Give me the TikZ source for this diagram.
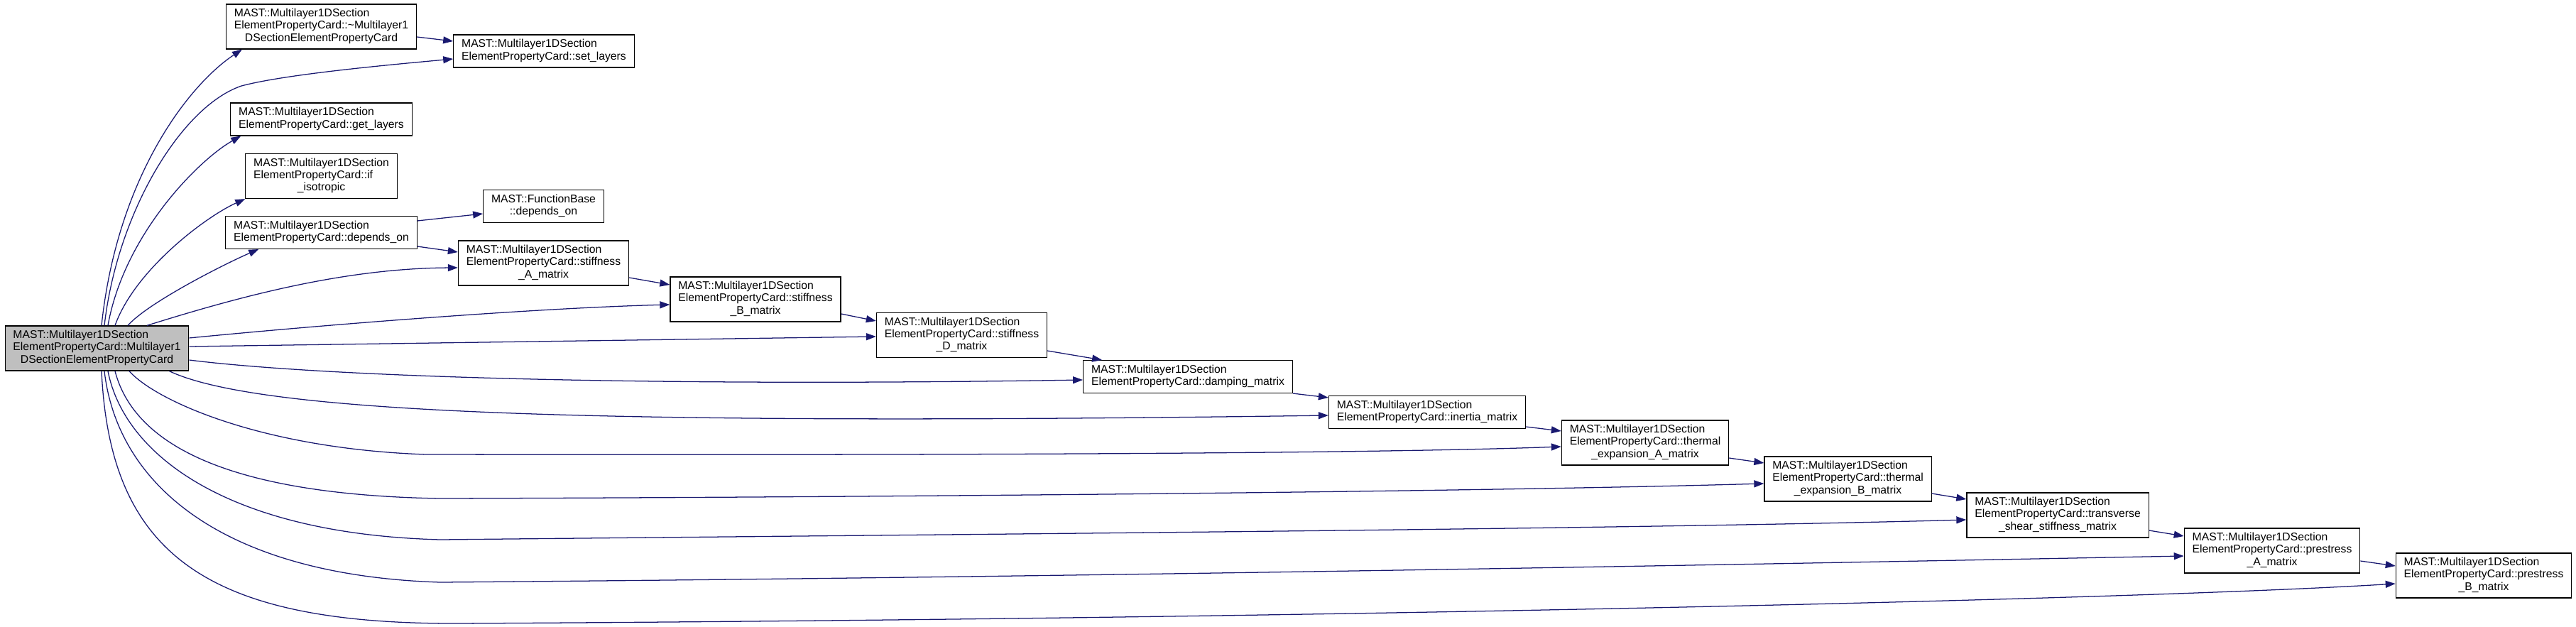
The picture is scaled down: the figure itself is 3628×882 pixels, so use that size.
\documentclass[tikz,border=0pt]{standalone}
\usepackage{fontspec}
\setmainfont{Liberation Sans}
\usepackage{tikz}
\usetikzlibrary{arrows.meta}

\definecolor{callblue}{RGB}{25,25,112}
\definecolor{rootgray}{RGB}{191,191,191}

% left-aligned lines, last line centred
\newcommand{\fnlabel}[2]{\begin{tabular}{@{}l@{}}#1\\\multicolumn{1}{@{}c@{}}{#2}\end{tabular}}

\begin{document}
\begin{tikzpicture}[
    x=0.75pt, y=-0.75pt,
    >={Triangle[length=10.5pt,width=7.5pt]},
    fnbox/.style={rectangle, draw=black, line width=0.9pt, fill=white, inner xsep=8.5pt, inner ysep=4.3pt, font=\fontsize{11.8}{12.9}\selectfont},
    rootbox/.style={fnbox, fill=rootgray},
    call/.style={->, draw=callblue, line width=0.95pt}
]
\useasboundingbox (0,0) rectangle (3628,882);

\node[rootbox] (root) at (136.5,490.5) {\fnlabel{MAST::Multilayer1DSection\\ElementPropertyCard::Multilayer1}{DSectionElementPropertyCard}};

\node[fnbox] (dtor) at (452.5,37.5) {\fnlabel{MAST::Multilayer1DSection\\ElementPropertyCard::\textasciitilde Multilayer1}{DSectionElementPropertyCard}};
\node[fnbox] (setlayers) at (766,72) {\fnlabel{MAST::Multilayer1DSection}{ElementPropertyCard::set\_layers}};
\node[fnbox] (getlayers) at (452.5,168) {\fnlabel{MAST::Multilayer1DSection}{ElementPropertyCard::get\_layers}};
\node[fnbox] (ifiso) at (452.5,248) {\fnlabel{MAST::Multilayer1DSection\\ElementPropertyCard::if}{\_isotropic}};
\node[fnbox] (funcbase) at (765.5,290.5) {\fnlabel{MAST::FunctionBase}{::depends\_on}};
\node[fnbox] (dependson) at (452.5,327.5) {\fnlabel{MAST::Multilayer1DSection}{ElementPropertyCard::depends\_on}};

\node[fnbox] (stiffA) at (765.5,370.5) {\fnlabel{MAST::Multilayer1DSection\\ElementPropertyCard::stiffness}{\_A\_matrix}};
\node[fnbox] (stiffB) at (1064,421.5) {\fnlabel{MAST::Multilayer1DSection\\ElementPropertyCard::stiffness}{\_B\_matrix}};
\node[fnbox] (stiffD) at (1354.5,472) {\fnlabel{MAST::Multilayer1DSection\\ElementPropertyCard::stiffness}{\_D\_matrix}};
\node[fnbox] (damping) at (1673,530.5) {\fnlabel{MAST::Multilayer1DSection}{ElementPropertyCard::damping\_matrix}};
\node[fnbox] (inertia) at (2010,580.5) {\fnlabel{MAST::Multilayer1DSection}{ElementPropertyCard::inertia\_matrix}};
\node[fnbox] (thermalA) at (2317,623.5) {\fnlabel{MAST::Multilayer1DSection\\ElementPropertyCard::thermal}{\_expansion\_A\_matrix}};
\node[fnbox] (thermalB) at (2602.5,674.5) {\fnlabel{MAST::Multilayer1DSection\\ElementPropertyCard::thermal}{\_expansion\_B\_matrix}};
\node[fnbox] (transverse) at (2898,725.5) {\fnlabel{MAST::Multilayer1DSection\\ElementPropertyCard::transverse}{\_shear\_stiffness\_matrix}};
\node[fnbox] (prestressA) at (3200,775.5) {\fnlabel{MAST::Multilayer1DSection\\ElementPropertyCard::prestress}{\_A\_matrix}};
\node[fnbox] (prestressB) at (3498,810.5) {\fnlabel{MAST::Multilayer1DSection\\ElementPropertyCard::prestress}{\_B\_matrix}};

% calls made by the constructor
\draw[call] ([shift={(6.5,0)}]root.north) .. controls (165,250) and (265,120) .. ([shift={(23,0)}]dtor.south west);
\draw[call] ([shift={(10.5,0)}]root.north) .. controls (165,300) and (255,150) .. (340,121) .. controls (400,105) and (540,92) .. ([shift={(0,11)}]setlayers.west);
\draw[call] ([shift={(15.5,0)}]root.north) .. controls (175,330) and (280,225) .. ([shift={(15,0)}]getlayers.south west);
\draw[call] ([shift={(25.5,0)}]root.north) .. controls (190,380) and (290,305) .. (ifiso.south west);
\draw[call] ([shift={(43.5,0)}]root.north) .. controls (210,425) and (320,370) .. ([shift={(47,0)}]dependson.south west);
\draw[call] ([shift={(70.5,0)}]root.north) .. controls (330,420) and (480,378) .. ([shift={(0,6.5)}]stiffA.west);
\draw[call] ([shift={(0,-14.5)}]root.east) .. controls (450,458) and (750,434) .. ([shift={(0,7.5)}]stiffB.west);
\draw[call] ([shift={(0,-2.5)}]root.east) -- ([shift={(0,2)}]stiffD.west);
\draw[call] ([shift={(0,16.5)}]root.east) .. controls (450,530) and (900,545) .. ([shift={(0,4.5)}]damping.west);
\draw[call] ([shift={(-28,0)}]root.south east) .. controls (360,580) and (800,600) .. ([shift={(0,4.5)}]inertia.west);
\draw[call] ([shift={(45.5,0)}]root.south) .. controls (220,565) and (370,632) .. (600,640) .. controls (1200,641) and (1900,640) .. ([shift={(0,5.5)}]thermalA.west);
\draw[call] ([shift={(25.5,0)}]root.south) .. controls (190,630) and (330,697) .. (620,702) .. controls (1300,700) and (2100,692) .. ([shift={(0,6.5)}]thermalB.west);
\draw[call] ([shift={(15.5,0)}]root.south) .. controls (175,640) and (320,752) .. (620,760) .. controls (1400,752) and (2300,745) .. ([shift={(0,6.5)}]transverse.west);
\draw[call] ([shift={(10.5,0)}]root.south) .. controls (165,680) and (310,810) .. (620,820) .. controls (1600,812) and (2600,792) .. ([shift={(0,7.5)}]prestressA.west);
\draw[call] ([shift={(6.5,0)}]root.south) .. controls (155,780) and (290,878) .. (640,878) .. controls (1800,872) and (3000,845) .. ([shift={(0,11.5)}]prestressB.west);

% calls between the members
\draw[call] ([shift={(0,14.5)}]dtor.east) -- ([shift={(0,-14)}]setlayers.west);
\draw[call] ([shift={(0,-16.5)}]dependson.east) -- ([shift={(0,10.5)}]funcbase.west);
\draw[call] ([shift={(0,19.5)}]dependson.east) -- ([shift={(0,-15.5)}]stiffA.west);
\draw[call] ([shift={(0,20.5)}]stiffA.east) -- ([shift={(0,-20.5)}]stiffB.west);
\draw[call] ([shift={(0,20.5)}]stiffB.east) -- ([shift={(0,-20)}]stiffD.west);
\draw[call] ([shift={(0,22)}]stiffD.east) -- ([shift={(27,0)}]damping.north west);
\draw[call] (damping.south east) -- ([shift={(0,3)}]inertia.north west);
\draw[call] ([shift={(0,20.5)}]inertia.east) -- ([shift={(0,-16.5)}]thermalA.west);
\draw[call] ([shift={(0,21.5)}]thermalA.east) -- ([shift={(0,-22.5)}]thermalB.west);
\draw[call] ([shift={(0,20.5)}]thermalB.east) -- ([shift={(0,-22.5)}]transverse.west);
\draw[call] ([shift={(0,21.5)}]transverse.east) -- ([shift={(0,-20.5)}]prestressA.west);
\draw[call] ([shift={(0,14.5)}]prestressA.east) -- ([shift={(0,-13.5)}]prestressB.west);
\end{tikzpicture}
\end{document}
